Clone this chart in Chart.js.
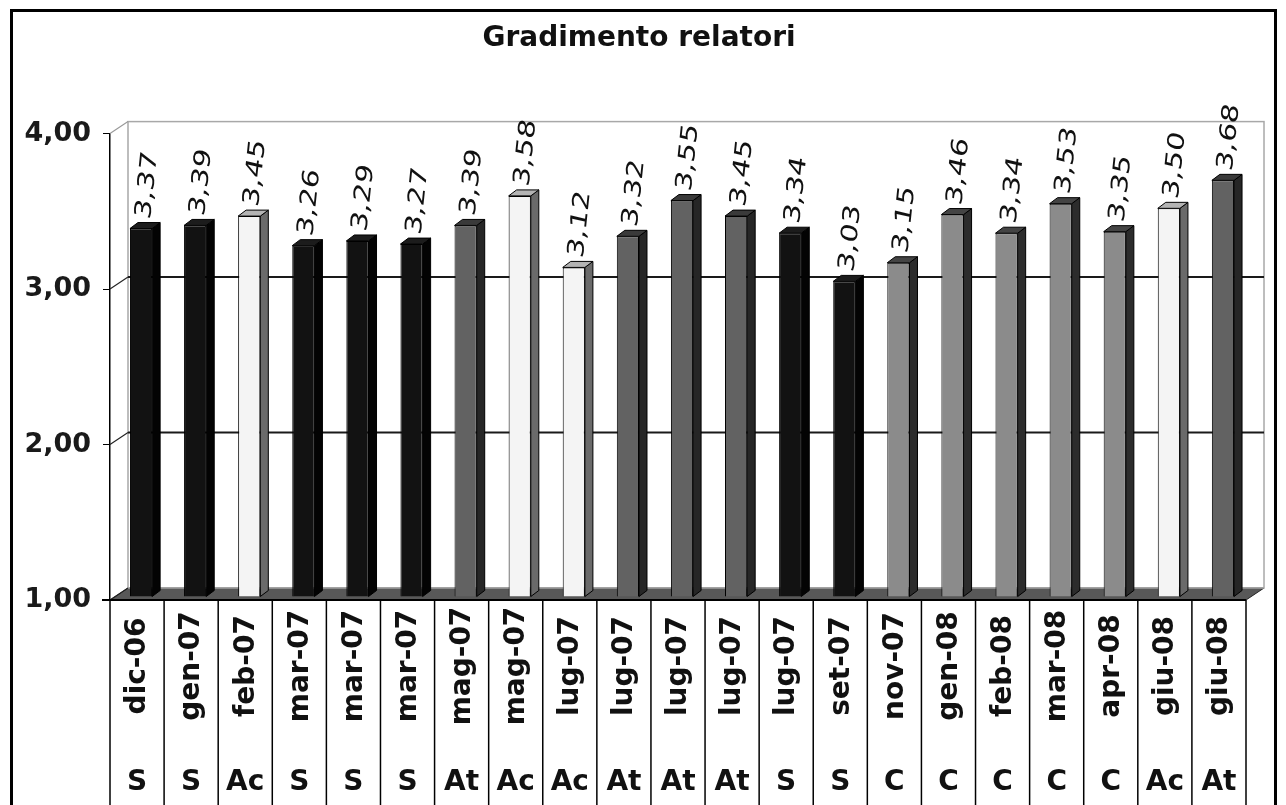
<!DOCTYPE html>
<html>
<head>
<meta charset="utf-8">
<title>Gradimento relatori</title>
<script src="https://cdn.jsdelivr.net/npm/chart.js@4.4.0/dist/chart.umd.min.js"></script>
<style>
  html, body { margin: 0; padding: 0; background: #fff; }
  #frame {
    position: absolute; left: 10px; top: 9px; width: 1267px; height: 900px;
    box-sizing: border-box; border: 3px solid #000; border-bottom: none;
  }
  #chart { position: absolute; left: 0; top: 0; }
</style>
</head>
<body>
<div id="frame"></div>
<canvas id="chart" width="1286" height="805"></canvas>
<script>
// data
const dates = ['dic-06', 'gen-07', 'feb-07', 'mar-07', 'mar-07', 'mar-07', 'mag-07', 'mag-07',
               'lug-07', 'lug-07', 'lug-07', 'lug-07', 'lug-07', 'set-07', 'nov-07', 'gen-08',
               'feb-08', 'mar-08', 'apr-08', 'giu-08', 'giu-08'];
const codes = ['S', 'S', 'Ac', 'S', 'S', 'S', 'At', 'Ac', 'Ac', 'At', 'At', 'At', 'S', 'S',
               'C', 'C', 'C', 'C', 'C', 'Ac', 'At'];
const values = [3.37, 3.39, 3.45, 3.26, 3.29, 3.27, 3.39, 3.58, 3.12, 3.32, 3.55, 3.45, 3.34,
                3.03, 3.15, 3.46, 3.34, 3.53, 3.35, 3.50, 3.68];
const yTicks = [1, 2, 3, 4];

// face colours per code: front, side, top
const codeColors = {
    S:  ['#121212', '#030303', '#1c1c1c'],
    Ac: ['#f4f4f4', '#6a6a6a', '#b4b4b4'],
    At: ['#626262', '#262626', '#3a3a3a'],
    C:  ['#8b8b8b', '#2c2c2c', '#444444']
};

const depthX = 18, depthY = -12;     // back wall offset
const shiftX = 4, shiftY = -3;       // bars sit a little behind the front plane
const sideW = 8, topH = 6;           // bar depth

const fmt = v => v.toFixed(2).replace('.', ',');

const threeD = {
    id: 'threeD',
    beforeDatasetsDraw(chart) {
        const { ctx, chartArea: a, scales: { y } } = chart;
        ctx.save();
        // floor
        ctx.beginPath();
        ctx.moveTo(a.left, a.bottom);
        ctx.lineTo(a.right, a.bottom);
        ctx.lineTo(a.right + depthX, a.bottom + depthY);
        ctx.lineTo(a.left + depthX, a.bottom + depthY);
        ctx.closePath();
        ctx.fillStyle = '#585858';
        ctx.fill();
        ctx.strokeStyle = '#222';
        ctx.lineWidth = 1;
        ctx.stroke();
        // back wall
        ctx.strokeStyle = '#a8a8a8';
        ctx.lineWidth = 1.5;
        ctx.strokeRect(a.left + depthX, a.top + depthY, a.width, a.bottom - a.top);
        // grid lines on the wall
        yTicks.forEach(v => {
            const py = y.getPixelForValue(v);
            if (v > yTicks[0] && v < yTicks[yTicks.length - 1]) {
                ctx.strokeStyle = '#1a1a1a';
                ctx.lineWidth = 2;
                ctx.beginPath();
                ctx.moveTo(a.left + depthX, py + depthY);
                ctx.lineTo(a.right + depthX, py + depthY);
                ctx.stroke();
            }
            ctx.strokeStyle = v === yTicks[yTicks.length - 1] ? '#999' : '#222';
            ctx.lineWidth = 1.2;
            ctx.beginPath();
            ctx.moveTo(a.left, py);
            ctx.lineTo(a.left + depthX, py + depthY);
            ctx.stroke();
        });
        ctx.restore();
        ctx.save();
        ctx.translate(shiftX, shiftY);
    },
    afterDatasetsDraw(chart) {
        const { ctx, chartArea: a, scales: { x } } = chart;
        const meta = chart.getDatasetMeta(0);
        // side and top faces (still translated)
        meta.data.forEach((bar, i) => {
            const c = codeColors[codes[i]];
            const l = bar.x - bar.width / 2, r = bar.x + bar.width / 2;
            ctx.strokeStyle = '#000';
            ctx.lineWidth = 1;
            ctx.beginPath();
            ctx.moveTo(r, bar.y);
            ctx.lineTo(r + sideW, bar.y - topH);
            ctx.lineTo(r + sideW, bar.base - topH);
            ctx.lineTo(r, bar.base);
            ctx.closePath();
            ctx.fillStyle = c[1];
            ctx.fill();
            ctx.stroke();
            ctx.beginPath();
            ctx.moveTo(l, bar.y);
            ctx.lineTo(l + sideW, bar.y - topH);
            ctx.lineTo(r + sideW, bar.y - topH);
            ctx.lineTo(r, bar.y);
            ctx.closePath();
            ctx.fillStyle = c[2];
            ctx.fill();
            ctx.stroke();
        });
        ctx.restore();

        ctx.save();
        // value labels, slanted
        ctx.fillStyle = '#111';
        ctx.font = '23px "DejaVu Sans"';
        ctx.textAlign = 'left';
        ctx.textBaseline = 'middle';
        meta.data.forEach((bar, i) => {
            ctx.save();
            ctx.translate(bar.x + shiftX + 3, bar.y + shiftY - 10);
            ctx.rotate(-84 * Math.PI / 180);
            ctx.transform(1, 0, -0.12, 1, 0, 0);
            ctx.scale(1.3, 1);
            ctx.fillText(fmt(values[i]), 0, 0);
            ctx.restore();
        });

        // front edge of the floor
        ctx.strokeStyle = '#000';
        ctx.lineWidth = 2;
        ctx.beginPath();
        ctx.moveTo(a.left - 8, a.bottom);
        ctx.lineTo(a.right, a.bottom);
        ctx.stroke();

        // category table under the plot
        const w = x.getPixelForValue(1) - x.getPixelForValue(0);
        const h = chart.height;
        ctx.lineWidth = 1.5;
        for (let i = 0; i <= dates.length; i++) {
            const xb = x.getPixelForValue(0) - w / 2 + i * w;
            ctx.beginPath();
            ctx.moveTo(xb, a.bottom);
            ctx.lineTo(xb, h);
            ctx.stroke();
        }
        ctx.fillStyle = '#111';
        dates.forEach((d, i) => {
            const cx = x.getPixelForValue(i);
            ctx.save();
            ctx.translate(cx + 1, a.bottom + 66);
            ctx.rotate(-Math.PI / 2);
            ctx.font = 'bold 28px "DejaVu Sans"';
            ctx.textAlign = 'center';
            ctx.textBaseline = 'middle';
            ctx.fillText(d, 0, 0);
            ctx.restore();
            ctx.font = 'bold 28px "DejaVu Sans"';
            ctx.textAlign = 'center';
            ctx.textBaseline = 'middle';
            ctx.fillText(codes[i], cx, a.bottom + 183);
        });
        ctx.restore();
    }
};

const ctx = document.getElementById('chart').getContext('2d');
new Chart(ctx, {
    type: 'bar',
    data: {
        labels: dates,
        datasets: [{
            data: values,
            base: 1,
            backgroundColor: codes.map(c => codeColors[c][0]),
            borderColor: '#000',
            borderWidth: 1,
            categoryPercentage: 1,
            barPercentage: 0.41
        }]
    },
    options: {
        responsive: false,
        animation: false,
        events: [],
        layout: { padding: { left: 0, right: 8, top: 0, bottom: 205 } },
        plugins: {
            legend: { display: false },
            tooltip: { enabled: false },
            title: {
                display: true,
                text: 'Gradimento relatori',
                color: '#111',
                font: { family: 'DejaVu Sans', size: 28, weight: 'bold' },
                padding: { top: 22, bottom: 78 }
            }
        },
        scales: {
            x: { display: false, offset: true },
            y: {
                min: 1,
                max: 4,
                afterFit: s => { s.width = 110; },
                ticks: {
                    stepSize: 1,
                    padding: 12,
                    color: '#1a1a1a',
                    font: { family: 'DejaVu Sans', size: 27, weight: 'bold' },
                    callback: v => fmt(v)
                },
                grid: { drawOnChartArea: false, drawTicks: true, tickLength: 7, color: '#000' },
                border: { display: true, color: '#000', width: 1.5 }
            },
            // empty spacer on the right so the title sits centred like the original
            yRight: {
                position: 'right',
                afterFit: s => { s.width = 32; },
                ticks: { display: false },
                grid: { display: false },
                border: { display: false }
            }
        }
    },
    plugins: [threeD]
});
</script>
</body>
</html>
